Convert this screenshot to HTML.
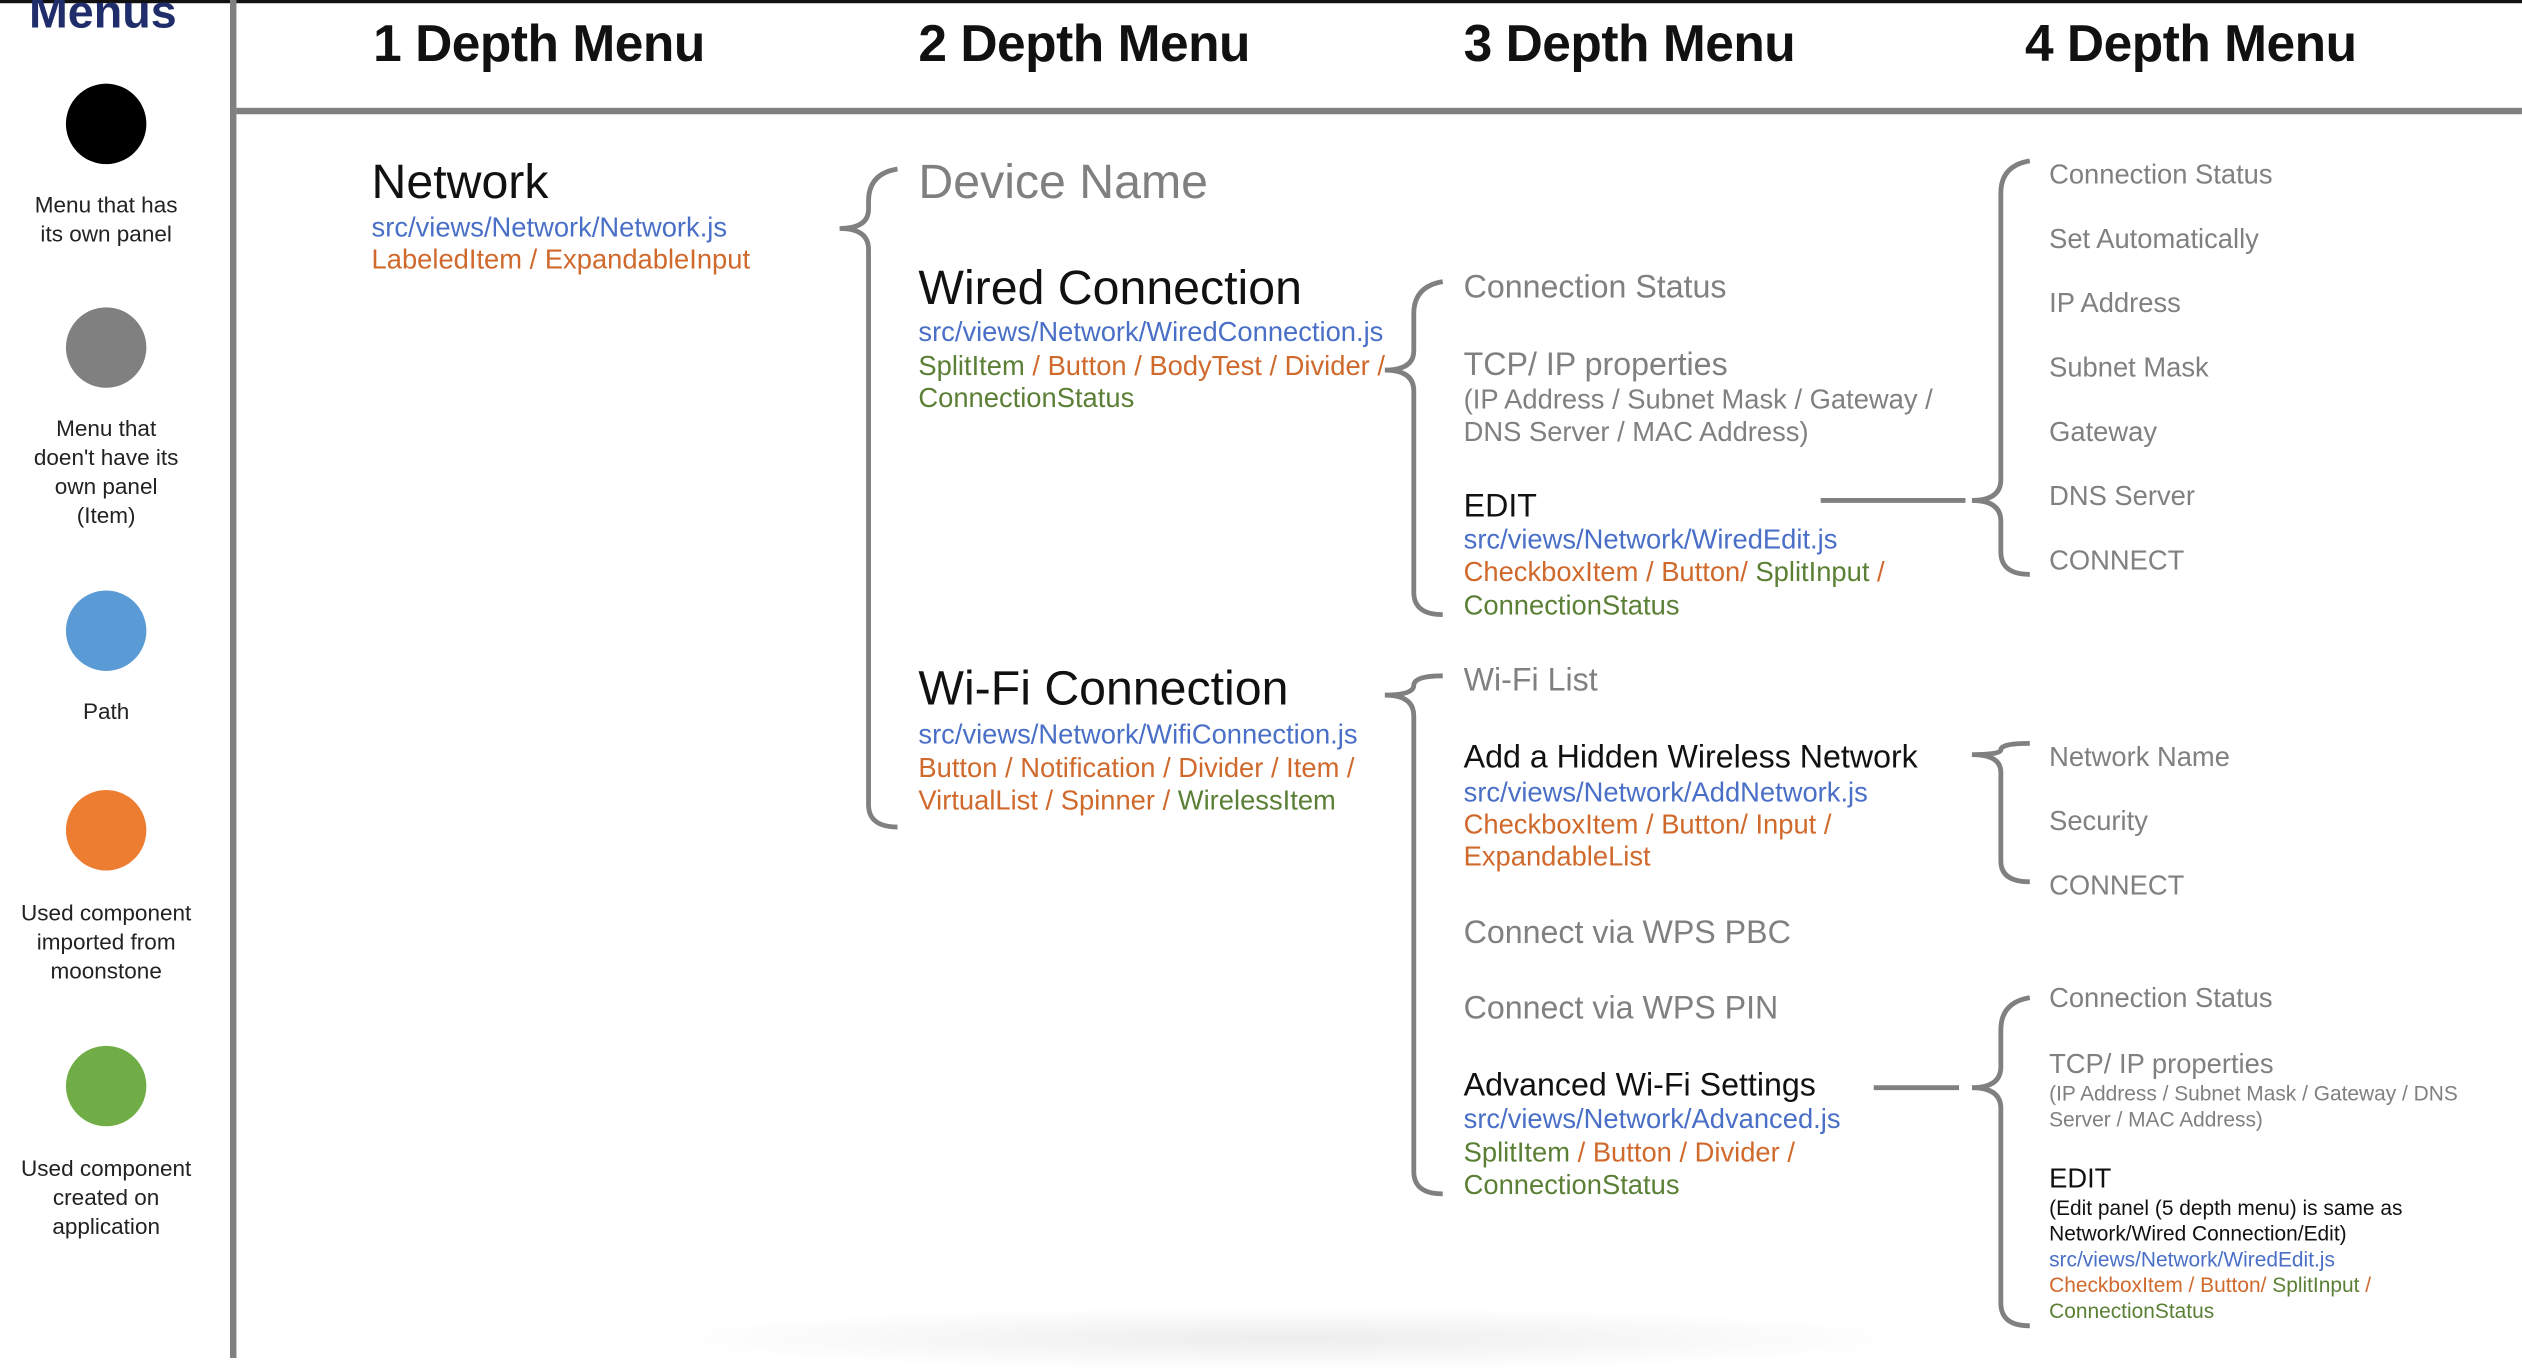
<!DOCTYPE html>
<html><head><meta charset="utf-8"><style>
html,body{margin:0;padding:0;background:#fff;}
body{width:2522px;height:1358px;overflow:hidden;position:relative;}
#s{position:absolute;left:0;top:0;width:1568px;height:844px;transform:scale(1.6084,1.609);transform-origin:0 0;font-family:"Liberation Sans Narrow","Liberation Sans",sans-serif;}
.t{position:absolute;white-space:nowrap;line-height:1.2;margin-top:2px;}
.g{color:#808080}.k{color:#111}.b{color:#4a6fc7}.o{color:#d0692c}.gr{color:#5a7f35}
.h{font-size:32px;font-weight:bold;color:#111;top:6px;font-family:"Liberation Sans",sans-serif;letter-spacing:-0.3px}
.lg{position:absolute;left:0;width:132px;text-align:center;font-size:14px;line-height:18px;color:#222;}
.c{position:absolute;left:41px;width:50px;height:50px;border-radius:50%;}
</style></head><body><div id="s">
<div style="position:absolute;left:0;top:0;width:1568px;height:2px;background:#111"></div>
<div style="position:absolute;left:143px;top:0;width:4px;height:844px;background:#808080"></div>
<div style="position:absolute;left:147px;top:67px;width:1421px;height:4px;background:#808080"></div>
<div style="position:absolute;left:400px;top:812px;width:800px;height:40px;background:radial-gradient(ellipse at center,rgba(0,0,0,0.07),rgba(0,0,0,0) 70%)"></div>
<div class="t" style="left:18px;top:-11px;font-size:29px;color:#1f2d6b;font-weight:bold">Menus</div>
<div class="c" style="top:52px;background:#000"></div>
<div class="lg" style="top:118px">Menu that has<br>its own panel</div>
<div class="c" style="top:191px;background:#808080"></div>
<div class="lg" style="top:257px">Menu that<br>doen't have its<br>own panel<br>(Item)</div>
<div class="c" style="top:367px;background:#5b9bd5"></div>
<div class="lg" style="top:433px">Path</div>
<div class="c" style="top:491px;background:#ed7d31"></div>
<div class="lg" style="top:558px">Used component<br>imported from<br>moonstone</div>
<div class="c" style="top:650px;background:#70ad47"></div>
<div class="lg" style="top:717px">Used component<br>created on<br>application</div>
<div class="t h" style="left:232px">1 Depth Menu</div>
<div class="t h" style="left:571px">2 Depth Menu</div>
<div class="t h" style="left:910px">3 Depth Menu</div>
<div class="t h" style="left:1259px">4 Depth Menu</div>
<svg style="position:absolute;left:0;top:0" width="1568" height="844" fill="none" stroke="#808080" stroke-width="3">
<path d="M558 105 Q540 108 540 125 L540 130 Q540 142 522 142 Q540 142 540 155 L540 500 Q540 514 558 514"/>
<path d="M897 175 Q879 178 879 195 L879 218 Q879 230 861 230 Q879 230 879 243 L879 368 Q879 382 897 382"/>
<path d="M897 420 Q879 420 879 426 Q879 432 861 432 Q879 432 879 445 L879 728 Q879 742 897 742"/>
<path d="M1262 100 Q1244 103 1244 120 L1244 298 Q1244 311 1226 311 Q1244 311 1244 324 L1244 343 Q1244 357 1262 357"/>
<path d="M1262 462 Q1244 462 1244 466 Q1244 469 1226 469 Q1244 469 1244 480 L1244 535 Q1244 548 1262 548"/>
<path d="M1262 620 Q1244 623 1244 640 L1244 663 Q1244 676 1226 676 Q1244 676 1244 689 L1244 810 Q1244 824 1262 824"/>
<line x1="1132" y1="311" x2="1222" y2="311"/>
<line x1="1165" y1="676" x2="1218" y2="676"/>
</svg>
<div class="t k" style="left:231px;top:94px;font-size:30px">Network</div>
<div class="t b" style="left:231px;top:130px;font-size:17px">src/views/Network/Network.js</div>
<div class="t o" style="left:231px;top:150px;font-size:17px">LabeledItem / ExpandableInput</div>
<div class="t g" style="left:571px;top:94px;font-size:30px">Device Name</div>
<div class="t k" style="left:571px;top:160px;font-size:30px">Wired Connection</div>
<div class="t b" style="left:571px;top:195px;font-size:17px">src/views/Network/WiredConnection.js</div>
<div class="t o" style="left:571px;top:216px;font-size:17px"><span class="gr">SplitItem</span> / Button / BodyTest / Divider /</div>
<div class="t gr" style="left:571px;top:236px;font-size:17px">ConnectionStatus</div>
<div class="t k" style="left:571px;top:409px;font-size:30px">Wi-Fi Connection</div>
<div class="t b" style="left:571px;top:445px;font-size:17px">src/views/Network/WifiConnection.js</div>
<div class="t o" style="left:571px;top:466px;font-size:17px">Button / Notification / Divider / Item /</div>
<div class="t o" style="left:571px;top:486px;font-size:17px">VirtualList / Spinner / <span class="gr">WirelessItem</span></div>
<div class="t g" style="left:910px;top:165px;font-size:20px">Connection Status</div>
<div class="t g" style="left:910px;top:213px;font-size:20px">TCP/ IP properties</div>
<div class="t g" style="left:910px;top:237px;font-size:17px">(IP Address / Subnet Mask / Gateway /</div>
<div class="t g" style="left:910px;top:257px;font-size:17px">DNS Server / MAC Address)</div>
<div class="t k" style="left:910px;top:301px;font-size:20px">EDIT</div>
<div class="t b" style="left:910px;top:324px;font-size:17px">src/views/Network/WiredEdit.js</div>
<div class="t o" style="left:910px;top:344px;font-size:17px">CheckboxItem / Button/ <span class="gr">SplitInput</span> /</div>
<div class="t gr" style="left:910px;top:365px;font-size:17px">ConnectionStatus</div>
<div class="t g" style="left:910px;top:409px;font-size:20px">Wi-Fi List</div>
<div class="t k" style="left:910px;top:457px;font-size:20px">Add a Hidden Wireless Network</div>
<div class="t b" style="left:910px;top:481px;font-size:17px">src/views/Network/AddNetwork.js</div>
<div class="t o" style="left:910px;top:501px;font-size:17px">CheckboxItem / Button/ Input /</div>
<div class="t o" style="left:910px;top:521px;font-size:17px">ExpandableList</div>
<div class="t g" style="left:910px;top:566px;font-size:20px">Connect via WPS PBC</div>
<div class="t g" style="left:910px;top:613px;font-size:20px">Connect via WPS PIN</div>
<div class="t k" style="left:910px;top:661px;font-size:20px">Advanced Wi-Fi Settings</div>
<div class="t b" style="left:910px;top:684px;font-size:17px">src/views/Network/Advanced.js</div>
<div class="t o" style="left:910px;top:705px;font-size:17px"><span class="gr">SplitItem</span> / Button / Divider /</div>
<div class="t gr" style="left:910px;top:725px;font-size:17px">ConnectionStatus</div>
<div class="t g" style="left:1274px;top:97px;font-size:17px">Connection Status</div>
<div class="t g" style="left:1274px;top:137px;font-size:17px">Set Automatically</div>
<div class="t g" style="left:1274px;top:177px;font-size:17px">IP Address</div>
<div class="t g" style="left:1274px;top:217px;font-size:17px">Subnet Mask</div>
<div class="t g" style="left:1274px;top:257px;font-size:17px">Gateway</div>
<div class="t g" style="left:1274px;top:297px;font-size:17px">DNS Server</div>
<div class="t g" style="left:1274px;top:337px;font-size:17px">CONNECT</div>
<div class="t g" style="left:1274px;top:459px;font-size:17px">Network Name</div>
<div class="t g" style="left:1274px;top:499px;font-size:17px">Security</div>
<div class="t g" style="left:1274px;top:539px;font-size:17px">CONNECT</div>
<div class="t g" style="left:1274px;top:609px;font-size:17px">Connection Status</div>
<div class="t g" style="left:1274px;top:650px;font-size:17px">TCP/ IP properties</div>
<div class="t g" style="left:1274px;top:670px;font-size:13px;line-height:16px">(IP Address / Subnet Mask / Gateway / DNS<br>Server / MAC Address)</div>
<div class="t k" style="left:1274px;top:721px;font-size:17px">EDIT</div>
<div class="t k" style="left:1274px;top:741px;font-size:13px;line-height:16px">(Edit panel (5 depth menu) is same as<br>Network/Wired Connection/Edit)</div>
<div class="t b" style="left:1274px;top:773px;font-size:13px;line-height:16px">src/views/Network/WiredEdit.js</div>
<div class="t o" style="left:1274px;top:789px;font-size:13px;line-height:16px">CheckboxItem / Button/ <span class="gr">SplitInput</span> /</div>
<div class="t gr" style="left:1274px;top:805px;font-size:13px;line-height:16px">ConnectionStatus</div>
</div></body></html>
